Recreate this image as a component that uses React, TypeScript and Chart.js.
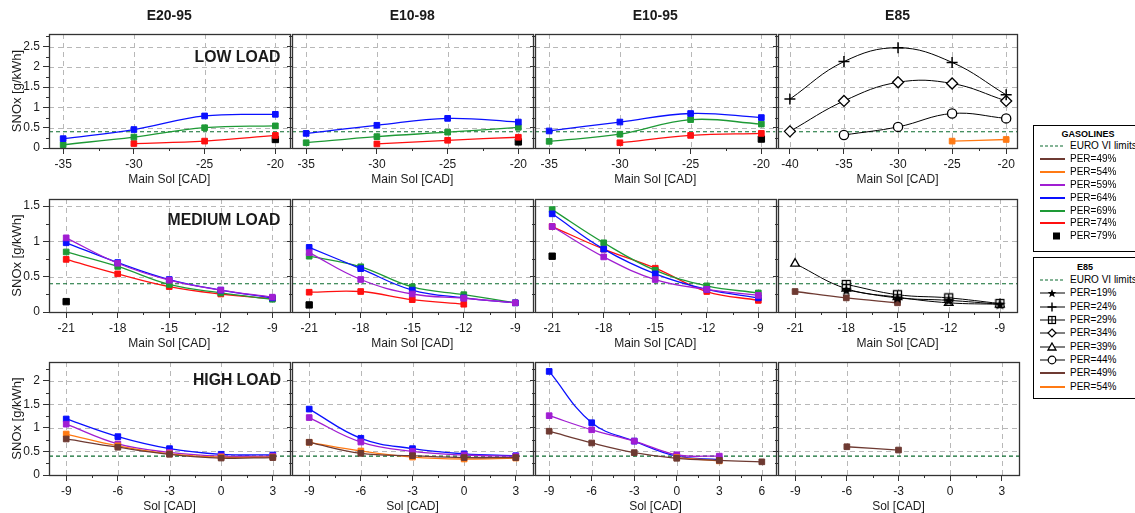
import React, { useEffect, useRef } from 'react';
import { Chart, registerables } from 'chart.js';

Chart.register(...registerables);

const FONT = '"Liberation Sans", Arial, Helvetica, sans-serif';
const TEXT = '#1a1a1a';
const EURO_COLOR = '#0b6b2e';

// ---------- texts ----------
const FUELS = ['E20-95', 'E10-98', 'E10-95', 'E85'];
const LOADS = ['LOW LOAD', 'MEDIUM LOAD', 'HIGH LOAD'];
const X_TITLES = ['Main Sol [CAD]', 'Main Sol [CAD]', 'Sol [CAD]'];
const Y_TITLE = 'SNOx [g/kWh]';
const EURO_LABEL = 'EURO VI limits';

// ---------- categories / tick labels ----------
const X_LOW = [-35, -30, -25, -20];
const X_LOW_E85 = [-40, -35, -30, -25, -20];
const X_MED = [-21, -18, -15, -12, -9];
const X_HIGH = [-9, -6, -3, 0, 3];
const X_HIGH_E1095 = [-9, -6, -3, 0, 3, 6];

const Y_TICKS_LOW = [0, 0.5, 1, 1.5, 2, 2.5];
const Y_TICKS_MED = [0, 0.5, 1, 1.5];
const Y_TICKS_HIGH = [0, 0.5, 1, 1.5, 2];

const EURO_VI_LIMIT = 0.4;

const GASOLINE_PERS = [49, 54, 59, 64, 69, 74, 79];
const E85_PERS = [19, 24, 29, 34, 39, 44, 49, 54];

// ---------- LOW LOAD ----------
const LOW_E2095_PER64 = [0.23, 0.455, 0.79, 0.83];
const LOW_E2095_PER69 = [0.08, 0.27, 0.5, 0.545];
const LOW_E2095_PER74 = [null, 0.11, 0.17, 0.31];
const LOW_E2095_PER79 = [null, null, null, 0.21];

const LOW_E1098_PER64 = [0.36, 0.56, 0.73, 0.64];
const LOW_E1098_PER69 = [0.13, 0.28, 0.39, 0.51];
const LOW_E1098_PER74 = [null, 0.1, 0.19, 0.265];
const LOW_E1098_PER79 = [null, null, null, 0.15];

const LOW_E1095_PER64 = [0.42, 0.64, 0.85, 0.75];
const LOW_E1095_PER69 = [0.165, 0.34, 0.7, 0.59];
const LOW_E1095_PER74 = [null, 0.13, 0.31, 0.36];
const LOW_E1095_PER79 = [null, null, null, 0.22];

const LOW_E85_PER24 = [1.205, 2.13, 2.47, 2.11, 1.31];
const LOW_E85_PER34 = [0.41, 1.16, 1.62, 1.59, 1.16];
const LOW_E85_PER44 = [null, 0.32, 0.52, 0.85, 0.73];
const LOW_E85_PER54 = [null, null, null, 0.17, 0.21];

// ---------- MEDIUM LOAD ----------
const MED_E2095_PER59 = [1.05, 0.69, 0.45, 0.31, 0.21];
const MED_E2095_PER64 = [0.98, 0.7, 0.46, 0.31, 0.2];
const MED_E2095_PER69 = [0.85, 0.645, 0.39, 0.27, 0.18];
const MED_E2095_PER74 = [0.745, 0.54, 0.36, 0.255, 0.19];
const MED_E2095_PER79 = [0.147, null, null, null, null];

const MED_E1098_PER59 = [0.84, 0.46, 0.255, 0.195, 0.13];
const MED_E1098_PER64 = [0.915, 0.614, 0.31, 0.2, 0.13];
const MED_E1098_PER69 = [0.79, 0.64, 0.355, 0.245, 0.13];
const MED_E1098_PER74 = [0.28, 0.29, 0.175, 0.11, null];
const MED_E1098_PER79 = [0.1, null, null, null, null];

const MED_E1095_PER59 = [1.21, 0.78, 0.46, 0.32, 0.235];
const MED_E1095_PER64 = [1.39, 0.89, 0.54, 0.32, 0.2];
const MED_E1095_PER69 = [1.45, 0.98, 0.59, 0.37, 0.27];
const MED_E1095_PER74 = [1.21, 0.89, 0.62, 0.29, 0.165];
const MED_E1095_PER79 = [0.79, null, null, null, null];

const MED_E85_PER19 = [null, 0.31, 0.2, 0.165, 0.11];
const MED_E85_PER29 = [null, 0.39, 0.245, 0.2, 0.12];
const MED_E85_PER39 = [0.685, 0.33, 0.21, 0.13, 0.11];
const MED_E85_PER49 = [0.29, 0.2, 0.13, null, null];

// ---------- HIGH LOAD ----------
const HIGH_E2095_PER49 = [0.765, 0.59, 0.44, 0.36, 0.37];
const HIGH_E2095_PER54 = [0.87, 0.62, 0.45, 0.38, 0.38];
const HIGH_E2095_PER59 = [1.08, 0.66, 0.48, 0.4, 0.4];
const HIGH_E2095_PER64 = [1.19, 0.815, 0.56, 0.44, 0.425];

const HIGH_E1098_PER49 = [0.695, 0.46, 0.41, 0.37, 0.37];
const HIGH_E1098_PER54 = [0.695, 0.51, 0.38, 0.34, 0.36];
const HIGH_E1098_PER59 = [1.22, 0.7, 0.5, 0.425, 0.4];
const HIGH_E1098_PER64 = [1.4, 0.78, 0.56, 0.45, 0.41];

const HIGH_E1095_PER49 = [0.93, 0.68, 0.475, 0.355, 0.31, 0.28];
const HIGH_E1095_PER54 = [null, null, null, 0.37, 0.3, null];
const HIGH_E1095_PER59 = [1.26, 0.96, 0.72, 0.43, 0.4, null];
const HIGH_E1095_PER64 = [2.2, 1.11, 0.72, 0.4, 0.33, null];

const HIGH_E85_PER49 = [null, 0.6, 0.53, null, null];

// ---------- styles ----------
const PER_STYLE: any = {
  19: { color: '#000', point: 'star' },
  24: { color: '#000', point: 'cross' },
  29: { color: '#000', point: 'squarePlus' },
  34: { color: '#000', point: 'rectRot' },
  39: { color: '#000', point: 'triangle' },
  44: { color: '#000', point: 'circle' },
  49: { color: '#6e3a32', point: 'rect' },
  54: { color: '#ff7a14', point: 'rect' },
  59: { color: '#a01ed2', point: 'rect' },
  64: { color: '#0a10ff', point: 'rect' },
  69: { color: '#1e9a36', point: 'rect' },
  74: { color: '#ff1010', point: 'rect' },
  79: { color: '#000', point: 'rect', noLine: true },
};

// ---------- layout ----------
const COL_LEFT = [49, 292, 535, 778];
const COL_W = 243;
const ROW_TOP = [34, 199, 362];
const ROW_H = [114, 113, 113];
const Y_MAX = [2.81, 1.6, 2.4];
const Y_TICKS = [Y_TICKS_LOW, Y_TICKS_MED, Y_TICKS_HIGH];
const LOAD_LABEL_DY = [24, 22, 19];
const LOAD_LABEL_W = [86, 113, 88];

const PANELS: any[] = [
  { row: 0, col: 0, xs: X_LOW, xTicks: X_LOW, xMin: -36, xMax: -19,
    series: [[64, LOW_E2095_PER64], [69, LOW_E2095_PER69], [74, LOW_E2095_PER74], [79, LOW_E2095_PER79]] },
  { row: 0, col: 1, xs: X_LOW, xTicks: X_LOW, xMin: -36, xMax: -19,
    series: [[64, LOW_E1098_PER64], [69, LOW_E1098_PER69], [74, LOW_E1098_PER74], [79, LOW_E1098_PER79]] },
  { row: 0, col: 2, xs: X_LOW, xTicks: X_LOW, xMin: -36, xMax: -19,
    series: [[64, LOW_E1095_PER64], [69, LOW_E1095_PER69], [74, LOW_E1095_PER74], [79, LOW_E1095_PER79]] },
  { row: 0, col: 3, xs: X_LOW_E85, xTicks: X_LOW_E85, xMin: -41.1, xMax: -19,
    series: [[24, LOW_E85_PER24], [34, LOW_E85_PER34], [44, LOW_E85_PER44], [54, LOW_E85_PER54]] },

  { row: 1, col: 0, xs: X_MED, xTicks: X_MED, xMin: -22, xMax: -8,
    series: [[59, MED_E2095_PER59], [64, MED_E2095_PER64], [69, MED_E2095_PER69], [74, MED_E2095_PER74], [79, MED_E2095_PER79]] },
  { row: 1, col: 1, xs: X_MED, xTicks: X_MED, xMin: -22, xMax: -8,
    series: [[59, MED_E1098_PER59], [64, MED_E1098_PER64], [69, MED_E1098_PER69], [74, MED_E1098_PER74], [79, MED_E1098_PER79]] },
  { row: 1, col: 2, xs: X_MED, xTicks: X_MED, xMin: -22, xMax: -8,
    series: [[59, MED_E1095_PER59], [64, MED_E1095_PER64], [69, MED_E1095_PER69], [74, MED_E1095_PER74], [79, MED_E1095_PER79]] },
  { row: 1, col: 3, xs: X_MED, xTicks: X_MED, xMin: -22, xMax: -8,
    series: [[19, MED_E85_PER19], [29, MED_E85_PER29], [39, MED_E85_PER39], [49, MED_E85_PER49]] },

  { row: 2, col: 0, xs: X_HIGH, xTicks: X_HIGH, xMin: -10, xMax: 4,
    series: [[49, HIGH_E2095_PER49], [54, HIGH_E2095_PER54], [59, HIGH_E2095_PER59], [64, HIGH_E2095_PER64]] },
  { row: 2, col: 1, xs: X_HIGH, xTicks: X_HIGH, xMin: -10, xMax: 4,
    series: [[49, HIGH_E1098_PER49], [54, HIGH_E1098_PER54], [59, HIGH_E1098_PER59], [64, HIGH_E1098_PER64]] },
  { row: 2, col: 2, xs: X_HIGH_E1095, xTicks: X_HIGH_E1095, xMin: -10, xMax: 7,
    series: [[49, HIGH_E1095_PER49], [54, HIGH_E1095_PER54], [59, HIGH_E1095_PER59], [64, HIGH_E1095_PER64]] },
  { row: 2, col: 3, xs: X_HIGH, xTicks: X_HIGH, xMin: -10, xMax: 4,
    series: [[49, HIGH_E85_PER49]] },
];

// ---------- custom point styles ----------
let MARKERS: any = null;
function getMarkers() {
  if (MARKERS) return MARKERS;
  const star = document.createElement('canvas');
  star.width = 13; star.height = 13;
  const g = star.getContext('2d') as CanvasRenderingContext2D;
  g.translate(6.5, 7);
  g.beginPath();
  for (let i = 0; i < 10; i++) {
    const r = i % 2 ? 2.4 : 5.8;
    const a = -Math.PI / 2 + (i * Math.PI) / 5;
    if (i === 0) g.moveTo(Math.cos(a) * r, Math.sin(a) * r);
    else g.lineTo(Math.cos(a) * r, Math.sin(a) * r);
  }
  g.closePath();
  g.fillStyle = '#000';
  g.fill();

  const sq = document.createElement('canvas');
  sq.width = 11; sq.height = 11;
  const h = sq.getContext('2d') as CanvasRenderingContext2D;
  h.fillStyle = '#fff';
  h.fillRect(1, 1, 9, 9);
  h.strokeStyle = '#000';
  h.lineWidth = 1.3;
  h.strokeRect(1.5, 1.5, 8, 8);
  h.beginPath();
  h.moveTo(5.5, 1.5); h.lineTo(5.5, 9.5);
  h.moveTo(1.5, 5.5); h.lineTo(9.5, 5.5);
  h.stroke();
  MARKERS = { star, squarePlus: sq };
  return MARKERS;
}

function datasetFor(per: number, xs: number[], ys: any[]) {
  const st = PER_STYLE[per];
  const m = getMarkers();
  const data = xs.map((x, i) => ({ x, y: ys[i] }));
  const ds: any = {
    label: 'PER=' + per + '%',
    data,
    borderColor: st.color,
    backgroundColor: st.color,
    borderWidth: st.color === '#000' ? 1 : 1.3,
    tension: 0.4,
    spanGaps: false,
    showLine: !st.noLine,
    pointBorderColor: st.color,
    pointBackgroundColor: st.color,
    pointBorderWidth: 1,
    pointRadius: 4,
    pointStyle: 'rect',
  };
  if (st.noLine) ds.pointRadius = 4.5;
  switch (st.point) {
    case 'star': ds.pointStyle = m.star; ds.pointRadius = 6; break;
    case 'squarePlus': ds.pointStyle = m.squarePlus; ds.pointRadius = 6; break;
    case 'cross': ds.pointStyle = 'cross'; ds.pointRadius = 5.5; ds.pointBorderWidth = 1.5; break;
    case 'rectRot': ds.pointStyle = 'rectRot'; ds.pointRadius = 5.5; ds.pointBackgroundColor = '#fff'; ds.pointBorderWidth = 1.3; break;
    case 'triangle': ds.pointStyle = 'triangle'; ds.pointRadius = 5; ds.pointBackgroundColor = '#fff'; ds.pointBorderWidth = 1.3; break;
    case 'circle': ds.pointStyle = 'circle'; ds.pointRadius = 4.6; ds.pointBackgroundColor = '#fff'; ds.pointBorderWidth = 1.3; break;
  }
  return ds;
}

function decoPlugin(p: any) {
  return {
    id: 'deco',
    beforeDatasetsDraw(chart: any) {
      const { ctx, chartArea: a, scales } = chart;
      const x = scales.x; const y = scales.y;
      ctx.save();
      ctx.strokeStyle = '#b8b8b8';
      ctx.lineWidth = 1;
      ctx.setLineDash([5, 4]);
      ctx.beginPath();
      for (const v of p.xTicks) {
        const px = Math.round(x.getPixelForValue(v)) + 0.5;
        ctx.moveTo(px, a.top); ctx.lineTo(px, a.bottom);
      }
      for (const v of Y_TICKS[p.row]) {
        if (v === 0) continue;
        const py = Math.round(y.getPixelForValue(v)) + 0.5;
        ctx.moveTo(a.left, py); ctx.lineTo(a.right, py);
      }
      ctx.stroke();
      ctx.restore();
    },
    afterDraw(chart: any) {
      const { ctx, chartArea: a, scales } = chart;
      const x = scales.x; const y = scales.y;
      ctx.save();
      // minor ticks
      ctx.strokeStyle = '#333';
      ctx.lineWidth = 1;
      ctx.beginPath();
      const step = p.xTicks[1] - p.xTicks[0];
      for (let v = p.xTicks[0] - step / 2; v <= p.xMax; v += step) {
        if (v < p.xMin) continue;
        const px = Math.round(x.getPixelForValue(v)) + 0.5;
        ctx.moveTo(px, a.bottom); ctx.lineTo(px, a.bottom + 3);
      }
      for (let v = 0.25; v <= Y_MAX[p.row]; v += 0.5) {
        const py = Math.round(y.getPixelForValue(v)) + 0.5;
        ctx.moveTo(a.left - 3, py); ctx.lineTo(a.left, py);
      }
      ctx.stroke();
      // frame
      ctx.strokeStyle = '#333';
      ctx.lineWidth = 1.3;
      ctx.strokeRect(Math.round(a.left) + 0.5, Math.round(a.top) + 0.5, Math.round(a.right - a.left), Math.round(a.bottom - a.top));
      // texts
      ctx.fillStyle = TEXT;
      if (p.row === 0) {
        ctx.font = 'bold 14px ' + FONT;
        ctx.textAlign = 'center';
        ctx.textBaseline = 'middle';
        ctx.fillText(FUELS[p.col], (a.left + a.right) / 2, 16);
      }
      if (p.col === 0) {
        ctx.font = 'bold 16px ' + FONT;
        ctx.textAlign = 'right';
        ctx.textBaseline = 'middle';
        ctx.fillText(LOADS[p.row], a.right - 9, a.top + LOAD_LABEL_DY[p.row], LOAD_LABEL_W[p.row]);
      }
      ctx.restore();
    },
  };
}

function Panel({ p }: { p: any }) {
  const ref = useRef<HTMLCanvasElement>(null);
  const left = p.col === 0 ? 0 : COL_LEFT[p.col] - 8;
  const lm = COL_LEFT[p.col] - left;
  const top = p.row === 0 ? 0 : ROW_TOP[p.row] - 12;
  const tm = ROW_TOP[p.row] - top;
  const w = lm + COL_W + 3;
  const h = tm + ROW_H[p.row] + 40;

  useEffect(() => {
    const datasets: any[] = [];
    for (const [per, ys] of p.series) datasets.push(datasetFor(per, p.xs, ys));
    datasets.push({
      label: EURO_LABEL,
      data: [{ x: p.xMin, y: EURO_VI_LIMIT }, { x: p.xMax, y: EURO_VI_LIMIT }],
      borderColor: EURO_COLOR,
      borderDash: [4, 3],
      borderWidth: 1.2,
      pointRadius: 0,
      tension: 0,
    });
    const tickFont = { family: FONT, size: 12 };
    const chart = new Chart(ref.current as HTMLCanvasElement, {
      type: 'line',
      data: { datasets },
      plugins: [decoPlugin(p)],
      options: {
        animation: false,
        responsive: false,
        events: [],
        layout: { padding: { left: 0, top: tm, right: 3, bottom: 0 } },
        plugins: { legend: { display: false }, tooltip: { enabled: false }, title: { display: false } },
        scales: {
          x: {
            type: 'linear',
            min: p.xMin,
            max: p.xMax,
            afterBuildTicks: (s: any) => { s.ticks = p.xTicks.map((v: number) => ({ value: v })); },
            afterFit: (s: any) => { s.height = 40; },
            ticks: { callback: (v: any) => String(v), font: tickFont, color: TEXT, padding: 3, maxRotation: 0, autoSkip: false },
            grid: { drawOnChartArea: false, drawTicks: true, tickLength: 6, tickColor: '#333', tickWidth: 1 },
            border: { display: false },
            title: { display: true, text: X_TITLES[p.row], font: tickFont, color: TEXT, padding: { top: 0, bottom: 1 } },
          },
          y: {
            type: 'linear',
            min: 0,
            max: Y_MAX[p.row],
            afterBuildTicks: (s: any) => { s.ticks = Y_TICKS[p.row].map((v: number) => ({ value: v })); },
            afterFit: (s: any) => { s.width = lm; },
            ticks: { display: p.col === 0, callback: (v: any) => String(v), font: tickFont, color: TEXT, padding: 3, autoSkip: false },
            grid: { drawOnChartArea: false, drawTicks: true, tickLength: p.col === 0 ? 6 : 5, tickColor: '#333', tickWidth: 1 },
            border: { display: false },
            title: { display: p.col === 0, text: Y_TITLE, font: { family: FONT, size: 13 }, color: TEXT, padding: { top: 10, bottom: 0 } },
          },
        },
      } as any,
    });
    return () => chart.destroy();
  }, []);

  return (
    <canvas
      ref={ref}
      width={w}
      height={h}
      style={{ position: 'absolute', left, top, width: w, height: h }}
    />
  );
}

function Marker({ per }: { per: number }) {
  const st = PER_STYLE[per];
  const cx = 13, cy = 5;
  switch (st.point) {
    case 'star': {
      const pts: string[] = [];
      for (let i = 0; i < 10; i++) {
        const r = i % 2 ? 2 : 4.6;
        const a = -Math.PI / 2 + (i * Math.PI) / 5;
        pts.push((cx + Math.cos(a) * r).toFixed(2) + ',' + (cy + 0.5 + Math.sin(a) * r).toFixed(2));
      }
      return <polygon points={pts.join(' ')} fill="#000" />;
    }
    case 'cross':
      return <path d={`M${cx - 4.5} ${cy}H${cx + 4.5}M${cx} ${cy - 4.5}V${cy + 4.5}`} stroke="#000" strokeWidth={1.4} />;
    case 'squarePlus':
      return (
        <g>
          <rect x={cx - 3.5} y={cy - 3.5} width={7} height={7} fill="#fff" stroke="#000" strokeWidth={1.2} />
          <path d={`M${cx - 3.5} ${cy}H${cx + 3.5}M${cx} ${cy - 3.5}V${cy + 3.5}`} stroke="#000" strokeWidth={1.1} />
        </g>
      );
    case 'rectRot':
      return <polygon points={`${cx},${cy - 4} ${cx + 4},${cy} ${cx},${cy + 4} ${cx - 4},${cy}`} fill="#fff" stroke="#000" strokeWidth={1.2} />;
    case 'triangle':
      return <polygon points={`${cx},${cy - 4} ${cx + 4},${cy + 3} ${cx - 4},${cy + 3}`} fill="#fff" stroke="#000" strokeWidth={1.3} />;
    case 'circle':
      return <circle cx={cx} cy={cy} r={3.8} fill="#fff" stroke="#000" strokeWidth={1.2} />;
    default:
      return null;
  }
}

function LegendRow({ y, per, euro }: { y: number; per?: number; euro?: boolean }) {
  const label = euro ? EURO_LABEL : 'PER=' + per + '%';
  let icon: any = null;
  if (euro) {
    icon = <line x1={1} y1={5} x2={26} y2={5} stroke={EURO_COLOR} strokeWidth={1.1} strokeDasharray="3 2" />;
  } else {
    const st = PER_STYLE[per as number];
    if (st.noLine) icon = <rect x={14} y={1.5} width={7} height={7} fill="#000" />;
    else if (st.point === 'rect') icon = <line x1={1} y1={5} x2={26} y2={5} stroke={st.color} strokeWidth={2} />;
    else icon = (
      <g>
        <line x1={1} y1={5} x2={26} y2={5} stroke="#000" strokeWidth={1} />
        <Marker per={per as number} />
      </g>
    );
  }
  return (
    <>
      <svg width={28} height={10} style={{ position: 'absolute', left: 1039, top: y - 5 }}>{icon}</svg>
      <div style={{ position: 'absolute', left: 1070, top: y - 6, fontSize: 10, lineHeight: '12px', whiteSpace: 'nowrap', color: '#000' }}>{label}</div>
    </>
  );
}

function Legends() {
  const box: any = { position: 'absolute', left: 1033, width: 110, border: '1px solid #000', boxSizing: 'border-box', background: '#fff' };
  const titleStyle: any = { position: 'absolute', left: 1033, width: 110, textAlign: 'center', fontWeight: 'bold', fontSize: 9, lineHeight: '12px', color: '#000' };
  return (
    <>
      <div style={{ ...box, top: 125, height: 127 }} />
      <div style={{ ...titleStyle, top: 134 - 6 }}>GASOLINES</div>
      <LegendRow y={146} euro />
      {GASOLINE_PERS.map((per, i) => <LegendRow key={'g' + per} y={146 + 12.9 * (i + 1)} per={per} />)}

      <div style={{ ...box, top: 257, height: 142 }} />
      <div style={{ ...titleStyle, top: 267 - 6, width: 104 }}>E85</div>
      <LegendRow y={280} euro />
      {E85_PERS.map((per, i) => <LegendRow key={'e' + per} y={280 + 13.35 * (i + 1)} per={per} />)}
    </>
  );
}

export default function App() {
  return (
    <div style={{ position: 'absolute', left: 0, top: 0, width: 1135, height: 513, overflow: 'hidden', background: '#fff', fontFamily: FONT }}>
      {PANELS.map((p, i) => <Panel key={i} p={p} />)}
      <Legends />
    </div>
  );
}
